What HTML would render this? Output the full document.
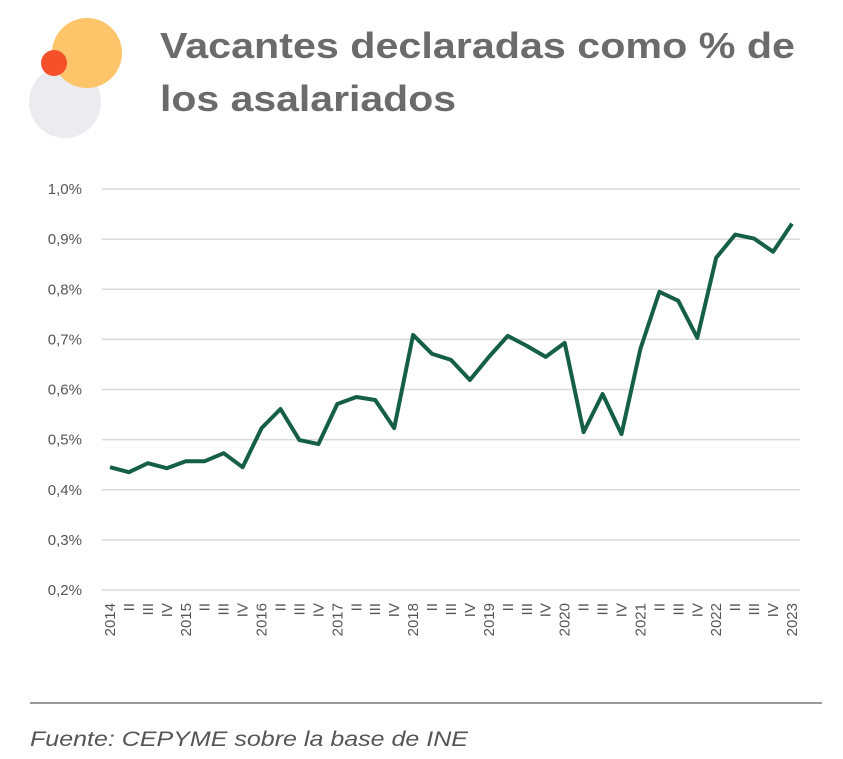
<!DOCTYPE html>
<html><head><meta charset="utf-8"><style>
body{margin:0;background:#fff;width:843px;height:754px;overflow:hidden;font-family:"Liberation Sans",sans-serif}
</style></head><body>
<svg width="843" height="754">
<circle cx="65" cy="102" r="36" fill="#ebebf0"/>
<circle cx="87" cy="53" r="35" fill="#fdc46a"/>
<circle cx="54" cy="63" r="13" fill="#f4512a"/>
<text x="160" y="58" font-size="36" font-weight="bold" fill="#6b6b6b" textLength="635" lengthAdjust="spacingAndGlyphs">Vacantes declaradas como % de</text>
<text x="160" y="111" font-size="36" font-weight="bold" fill="#6b6b6b" textLength="296" lengthAdjust="spacingAndGlyphs">los asalariados</text>
<g id="grid"></g><g id="ylab"></g><g id="xlab"></g>
<path id="line" fill="none" stroke="#145f45" stroke-width="4" stroke-linejoin="round"/>
<line x1="30" y1="703" x2="822" y2="703" stroke="#333" stroke-width="1"/>
<text x="30" y="746" font-size="21" font-style="italic" fill="#555" textLength="438" lengthAdjust="spacingAndGlyphs">Fuente: CEPYME sobre la base de INE</text>
</svg>
<script>
const yTicks=[0.2,0.3,0.4,0.5,0.6,0.7,0.8,0.9,1.0];
const yTickLabels=["0,2%","0,3%","0,4%","0,5%","0,6%","0,7%","0,8%","0,9%","1,0%"];
const categories=["2014","II","III","IV","2015","II","III","IV","2016","II","III","IV","2017","II","III","IV","2018","II","III","IV","2019","II","III","IV","2020","II","III","IV","2021","II","III","IV","2022","II","III","IV","2023"];
const values=[0.445,0.435,0.453,0.443,0.457,0.457,0.473,0.445,0.523,0.561,0.499,0.491,0.571,0.585,0.579,0.523,0.709,0.671,0.659,0.619,0.665,0.707,0.687,0.665,0.693,0.515,0.591,0.511,0.681,0.795,0.777,0.703,0.863,0.909,0.901,0.875,0.931];
const NS="http://www.w3.org/2000/svg";
const y=v=>590-(v-0.2)/0.8*401;
const x=i=>110+i*(682/(categories.length-1));
const g=document.getElementById('grid'),yl=document.getElementById('ylab'),xl=document.getElementById('xlab');
yTicks.forEach((t,i)=>{
 const l=document.createElementNS(NS,'line');
 l.setAttribute('x1',102);l.setAttribute('x2',800);l.setAttribute('y1',y(t));l.setAttribute('y2',y(t));
 l.setAttribute('stroke','#d9d9d9');l.setAttribute('stroke-width','1.5');
 
 
 g.appendChild(l);
 const tx=document.createElementNS(NS,'text');
 tx.setAttribute('x',82);tx.setAttribute('y',y(t)+5);tx.setAttribute('text-anchor','end');
 tx.setAttribute('font-size','15');tx.setAttribute('fill','#555');tx.textContent=yTickLabels[i];
 
 
 yl.appendChild(tx);
});
categories.forEach((c,i)=>{
 const tx=document.createElementNS(NS,'text');
 tx.setAttribute('transform',`translate(${x(i)+5},603) rotate(-90)`);
 tx.setAttribute('text-anchor','end');tx.setAttribute('font-size','15');tx.setAttribute('fill','#555');
 tx.textContent=c;
 
 
 xl.appendChild(tx);
});
document.getElementById('line').setAttribute('d',values.map((v,i)=>(i?'L':'M')+x(i).toFixed(1)+' '+y(v).toFixed(1)).join(' '));
</script>
</body></html>
